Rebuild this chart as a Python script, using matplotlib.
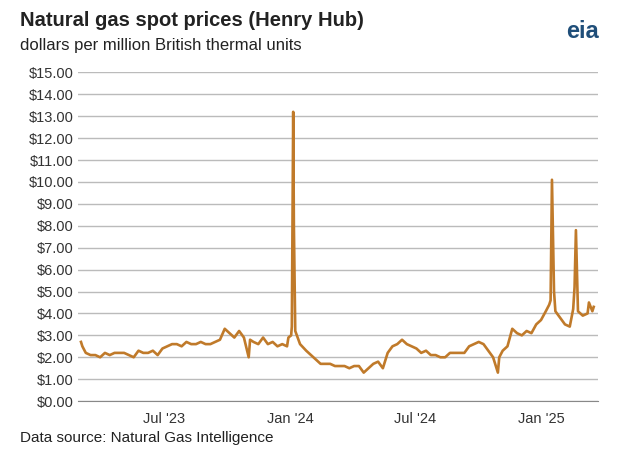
import matplotlib
matplotlib.use("Agg")
import matplotlib.pyplot as plt
import matplotlib.dates as mdates
import pandas as pd

plt.rcParams["font.family"] = "Liberation Sans"

dates = ["2023-03-01","2023-03-03","2023-03-08","2023-03-15","2023-03-22","2023-03-29","2023-04-05","2023-04-12","2023-04-19","2023-04-26",
"2023-05-03","2023-05-10","2023-05-17","2023-05-24","2023-05-31","2023-06-07","2023-06-14","2023-06-21","2023-06-28",
"2023-07-05","2023-07-12","2023-07-19","2023-07-26","2023-08-02","2023-08-09","2023-08-16","2023-08-23","2023-08-30",
"2023-09-06","2023-09-13","2023-09-20","2023-09-27","2023-10-04","2023-10-11","2023-10-18","2023-10-25","2023-11-01","2023-11-03",
"2023-11-08","2023-11-15","2023-11-22","2023-11-29","2023-12-06","2023-12-13","2023-12-20","2023-12-27","2023-12-29","2024-01-02",
"2024-01-03","2024-01-05","2024-01-06","2024-01-08","2024-01-15","2024-01-24","2024-01-31","2024-02-07","2024-02-14","2024-02-28",
"2024-03-06","2024-03-13","2024-03-20","2024-03-27","2024-04-03","2024-04-10","2024-04-17","2024-04-24","2024-05-01","2024-05-08",
"2024-05-15","2024-05-22","2024-05-29","2024-06-05","2024-06-12","2024-06-19","2024-06-26","2024-07-03","2024-07-10","2024-07-17",
"2024-07-24","2024-07-31","2024-08-07","2024-08-14","2024-08-21","2024-08-28","2024-09-04","2024-09-11","2024-09-18","2024-09-25",
"2024-10-02","2024-10-09","2024-10-16","2024-10-23","2024-10-30","2024-11-01","2024-11-06","2024-11-13","2024-11-20","2024-11-27",
"2024-12-04","2024-12-11","2024-12-18","2024-12-25","2025-01-01","2025-01-08","2025-01-13","2025-01-15","2025-01-17","2025-01-20",
"2025-01-22","2025-01-29","2025-02-05","2025-02-12","2025-02-17","2025-02-19","2025-02-21","2025-02-24","2025-03-03","2025-03-10",
"2025-03-12","2025-03-17","2025-03-19"]
prices = [2.7,2.5,2.2,2.1,2.1,2.0,2.2,2.1,2.2,2.2,
2.2,2.1,2.0,2.3,2.2,2.2,2.3,2.1,2.4,
2.5,2.6,2.6,2.5,2.7,2.6,2.6,2.7,2.6,
2.6,2.7,2.8,3.3,3.1,2.9,3.2,2.9,2.0,2.8,
2.7,2.6,2.9,2.6,2.7,2.5,2.6,2.5,2.9,3.0,
3.4,13.2,8.0,3.2,2.6,2.3,2.1,1.9,1.7,1.7,
1.6,1.6,1.6,1.5,1.6,1.6,1.3,1.5,1.7,1.8,
1.5,2.2,2.5,2.6,2.8,2.6,2.5,2.4,2.2,2.3,
2.1,2.1,2.0,2.0,2.2,2.2,2.2,2.2,2.5,2.6,
2.7,2.6,2.3,2.0,1.3,2.0,2.3,2.5,3.3,3.1,
3.0,3.2,3.1,3.5,3.7,4.1,4.4,4.6,10.1,5.0,
4.1,3.8,3.5,3.4,4.2,5.2,7.8,4.1,3.9,4.0,
4.5,4.1,4.3]

fig = plt.figure(figsize=(6.26,4.73), dpi=100)
ax = fig.add_axes([0.125, 0.152, 0.83, 0.695])
ax.plot(pd.to_datetime(dates), prices, color="#C07A2A", lw=1.9)
ax.set_ylim(0,15)
ax.set_yticks(range(16))
ax.set_yticklabels([f"${v}.00" for v in range(16)], fontsize=10.5, color="#333333")
ax.set_xlim(pd.Timestamp("2023-02-25"), pd.Timestamp("2025-03-25"))
ax.xaxis.set_major_locator(mdates.MonthLocator(bymonth=[1,7]))
ax.xaxis.set_major_formatter(plt.FuncFormatter(lambda v,p: mdates.num2date(v).strftime("%b '%y")))
ax.tick_params(axis="x", labelsize=10.5, colors="#333333", length=0, pad=8)
ax.tick_params(axis="y", length=0)
ax.grid(axis="y", color="#BBBBBB", lw=1)
for s in ["top","right","left"]:
    ax.spines[s].set_visible(False)
ax.spines["bottom"].set_color("#888888")
fig.text(0.032, 0.945, "Natural gas spot prices (Henry Hub)", fontsize=14.5, fontweight="bold", color="#222222")
fig.text(0.032, 0.895, "dollars per million British thermal units", fontsize=12, color="#222222")
fig.text(0.032, 0.065, "Data source: Natural Gas Intelligence", fontsize=11, color="#222222")
fig.text(0.905, 0.92, "eia", fontsize=17, fontweight="bold", color="#1F4E79")
fig.savefig("out.png", dpi=100)
